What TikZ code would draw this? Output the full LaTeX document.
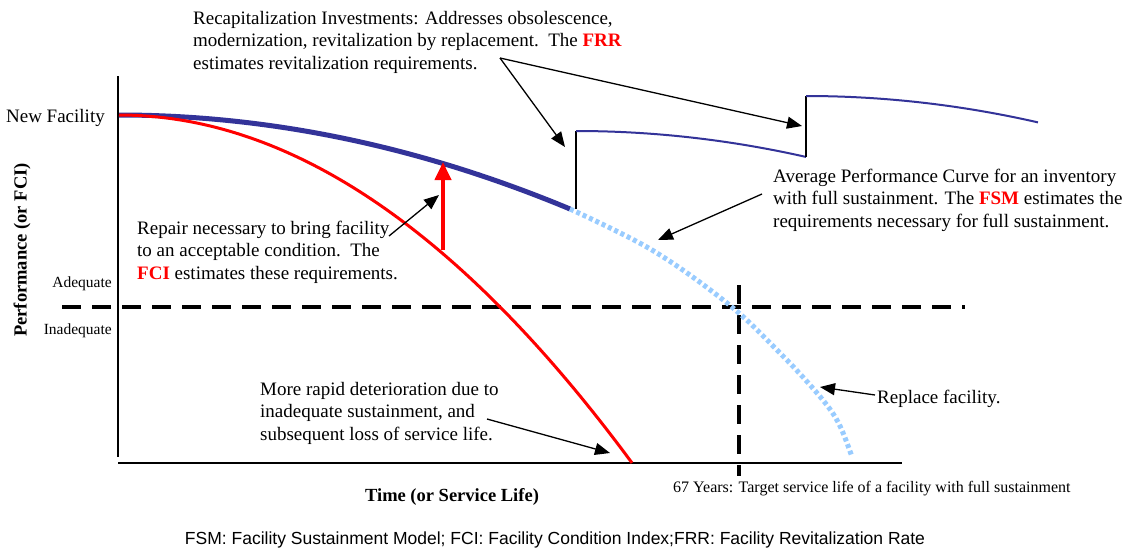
\documentclass[tikz,border=0pt]{standalone}
\usepackage{fontspec}
\setmainfont{Liberation Serif}
\newfontfamily\legendfont{Liberation Sans}
\usetikzlibrary{arrows.meta}
\definecolor{perfblue}{HTML}{333399}
\definecolor{sustblue}{HTML}{99CCFF}
\newcommand{\key}[1]{{\color{red}\bfseries #1}}

\begin{document}
\begin{tikzpicture}[x=1pt, y=-1pt,
    txt/.style={inner sep=0pt, align=left, font=\fontsize{19}{22.5}\selectfont},
    small/.style={inner sep=0pt, font=\fontsize{15.5}{18}\selectfont},
    axislabel/.style={inner sep=0pt, font=\fontsize{18.5}{22}\selectfont\bfseries},
    pointer/.style={line width=1.3pt, -{Triangle[length=15pt, width=12pt]}},
    limit/.style={line width=4pt, dash pattern=on 19pt off 11pt}]
  \path[use as bounding box, fill=white] (0,0) rectangle (1129,550);

  % axes
  \draw[line width=2pt] (118,76) -- (118,457);
  \draw[line width=2pt] (118,463) -- (902,463);
  \node[txt, anchor=east] (newfac) at (105,118) {New Facility};
  \node[axislabel, rotate=90] (perf) at (22,250) {Performance (or FCI)};
  \node[axislabel] (time) at (452,497) {Time (or Service Life)};

  % adequate / inadequate threshold and the 67 year mark
  \draw[limit] (62,307) -- (965,307);
  \draw[limit] (739,285) -- (739,476);
  \node[small, anchor=east] (adequate) at (112,284) {Adequate};
  \node[small, anchor=east] (inadequate) at (112,331) {Inadequate};
  \node[small, anchor=west, font=\fontsize{16}{18}\selectfont] (target) at (673,489) {67 Years: Target service life of a facility with full sustainment};

  % full sustainment: y = 115 + a (x-119)^2
  \draw[perfblue, line width=5pt] plot[domain=119:570, samples=60, variable=\x] ({\x}, {115+4.62*((\x-119)/100)^2});
  \draw[sustblue, line width=5pt, dash pattern=on 4pt off 3pt]
    plot[smooth, tension=0.6] coordinates {(570,209) (652,250) (727,303) (777,350) (817,393) (838,422) (852,457)};

  % recapitalization jumps
  \foreach \s/\e/\b/\t in {576/806/209/131, 806/1038/157/96} {
    \draw[line width=1.5pt] (\s,\b) -- (\s,\t);
    \draw[perfblue, line width=2pt] plot[domain=\s:\e, samples=40, variable=\x] ({\x}, {\t+4.9*((\x-\s)/100)^2});
  }

  % inadequate sustainment
  \draw[red, line width=3pt] plot[domain=119:632, samples=80, variable=\x] ({\x}, {115+13.22*((\x-119)/100)^2});
  \draw[red, line width=4pt, -{Triangle[length=18pt, width=16pt]}] (443,250) -- (443,162);

  % notes
  \node[txt, anchor=west] (recap) at (193,42) {Recapitalization Investments: Addresses obsolescence,\\
    modernization, revitalization by replacement.\ \ The \key{FRR}\\
    estimates revitalization requirements.};
  \node[txt, anchor=west] (repair) at (137,252) {Repair necessary to bring facility\\
    to an acceptable condition.\ \ The\\
    \key{FCI} estimates these requirements.};
  \node[txt, anchor=west] (fsm) at (773,200) {Average Performance Curve for an inventory\\
    with full sustainment. The \key{FSM} estimates the\\
    requirements necessary for full sustainment.};
  \node[txt, anchor=west] (rapid) at (260,413) {More rapid deterioration due to\\
    inadequate sustainment, and\\
    subsequent loss of service life.};
  \node[txt, anchor=west] (replace) at (877,399) {Replace facility.};
  \node[inner sep=0pt, font=\legendfont\fontsize{17.5}{20}\selectfont] (legend) at (555,540)
    {FSM: Facility Sustainment Model; FCI: Facility Condition Index;FRR: Facility Revitalization Rate};

  % pointers
  \coordinate (frrfrom) at (500,58);
  \coordinate (jumpA) at (565,147);
  \coordinate (jumpB) at (802,126);
  \coordinate (fcifrom) at (389,236);
  \coordinate (fcito) at (439,195);
  \coordinate (fsmfrom) at (762,194);
  \coordinate (fsmto) at (658,240);
  \coordinate (rapidfrom) at (487,419);
  \coordinate (rapidto) at (610,453);
  \coordinate (replfrom) at (875,395);
  \coordinate (replto) at (820,387);
  \draw[pointer] (frrfrom) -- (jumpA);
  \draw[pointer] (frrfrom) -- (jumpB);
  \draw[pointer] (fcifrom) -- (fcito);
  \draw[pointer] (fsmfrom) -- (fsmto);
  \draw[pointer] (rapidfrom) -- (rapidto);
  \draw[pointer] (replfrom) -- (replto);
\end{tikzpicture}
\end{document}
